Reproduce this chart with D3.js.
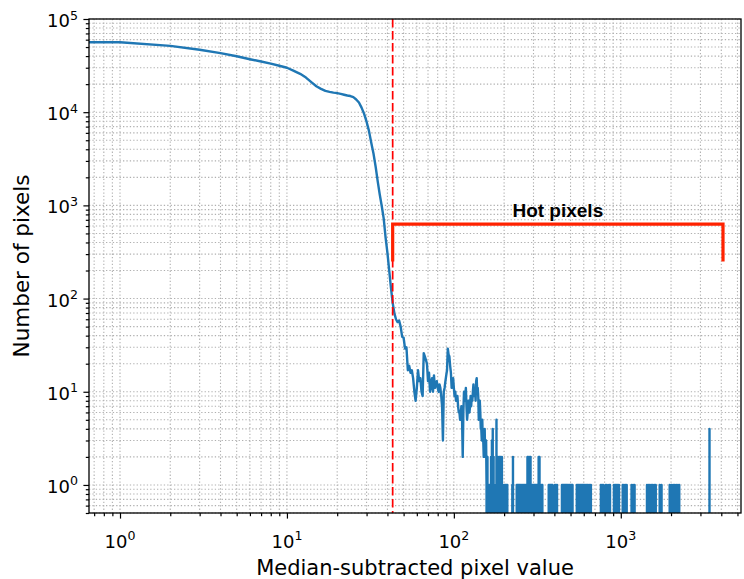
<!DOCTYPE html>
<html>
<head>
<meta charset="utf-8">
<script src="https://cdn.jsdelivr.net/npm/d3@7"></script>
<style>
  body { margin: 0; background: #fff; }
  svg { display: block; font-family: "DejaVu Sans", sans-serif; }
</style>
</head>
<body>
<svg id="chart" width="744" height="579"></svg>
<script>
// Histogram counts for bins 0..156 (bin = index)
const denseCounts = [
  57000, 56200, 51500, 46800, 43000, 39800, 37000, 35000, 33200, 31500,
  30000, 27800, 25800, 23500, 21000, 19000, 17800, 16900, 16500, 16200,
  16000, 15700, 15400, 15100, 14900, 14500, 13700, 12700, 11200, 9600,
  7900, 6300, 4700, 3600, 2600, 1800, 1300, 980, 720, 450,
  310, 200, 130, 90, 70, 60, 56, 58, 50, 39,
  38, 29, 30, 17, 19, 16, 17, 14, 10, 8,
  11, 17, 13, 14, 10, 9, 26, 24, 22, 20,
  13, 16, 10, 12, 14, 10, 15, 11, 12, 13,
  11, 10, 12, 11, 9, 7, 3, 10, 11, 13,
  15, 17, 29, 25, 24, 19, 16, 11, 12, 14,
  11, 9, 10, 8, 8, 9, 7, 6, 6, 5,
  6, 7, 5, 2, 6, 10, 8, 9, 11, 7,
  5, 6, 8, 8, 6, 7, 9, 7, 9, 8,
  10, 12, 9, 10, 11, 8, 13, 14, 10, 11,
  9, 5, 7, 8, 6, 4, 4, 3, 5, 3,
  3, 2, 3, 4, 2, 2, 3
];

// Sparse tail: the only non-empty bins above 156 (all other bins are 0)
const sparseBins = [
  157, 159, 161, 163, 165, 167, 169, 171, 173, 175, 178, 180, 182, 184, 186,
  188, 190, 192, 194, 197, 200, 203, 206, 209, 224, 226, 238, 241, 244, 247,
  250, 254, 258, 262, 266, 270, 276, 279, 282, 285, 288, 291, 295, 299, 303,
  307, 311, 315, 322, 326, 330, 335, 339, 370, 375, 380, 385, 390, 403, 409,
  415, 444, 450, 456, 462, 468, 474, 480, 488, 495, 502, 509, 514, 545, 553,
  561, 569, 577, 585, 593, 601, 610, 619, 628, 637, 650, 662, 760, 772, 784,
  810, 825, 850, 862, 910, 925, 940, 958, 975, 1027, 1045, 1065, 1085, 1160, 1185,
  1210, 1435, 1460, 1490, 1520, 1550, 1585, 1620, 1710, 1755, 1963, 2010, 2060, 2105, 2150,
  2200, 2240, 3400
];
const sparseCounts = [
  1, 2, 1, 1, 1, 2, 3, 4, 2, 1, 1, 5, 1, 2, 1,
  2, 2, 1, 2, 1, 1, 1, 1, 1, 1, 2, 1, 1, 1, 1,
  1, 1, 1, 1, 1, 1, 2, 2, 1, 2, 2, 1, 1, 1, 1,
  1, 1, 1, 2, 2, 1, 1, 1, 1, 1, 1, 1, 1, 1, 1,
  1, 1, 1, 1, 1, 1, 1, 1, 1, 1, 1, 1, 1, 1, 1,
  1, 1, 1, 1, 1, 1, 1, 1, 1, 1, 1, 1, 1, 1, 1,
  1, 1, 1, 1, 1, 1, 1, 1, 1, 1, 1, 1, 1, 1, 1,
  1, 1, 1, 1, 1, 1, 1, 1, 1, 1, 1, 1, 1, 1, 1,
  1, 1, 4
];
const lastBin = 3410;

const thresholdValue = 43;            // red dashed line
const bracketX = [43, 4096];          // "Hot pixels" bracket
const bracketY = [250, 630];
const bracketLabel = "Hot pixels";

const xMajorTicks = [1, 10, 100, 1000];
const yMajorTicks = [1, 10, 100, 1000, 10000, 100000];
const minorSteps = [2, 3, 4, 5, 6, 7, 8, 9];
const xLabel = "Median-subtracted pixel value";
const yLabel = "Number of pixels";

// build the full series
const sparseMap = new Map(sparseBins.map((b, i) => [b, sparseCounts[i]]));
const series = denseCounts.map((c, i) => ({ bin: i, count: c }));
for (let b = denseCounts.length; b <= lastBin; b++) {
  series.push({ bin: b, count: sparseMap.get(b) || 0 });
}

const svg = d3.select("#chart");
const plot = { left: 89, right: 741, top: 19, bottom: 513 };

const x = d3.scaleLog().domain([0.652, 5250]).range([plot.left, plot.right]);
const y = d3.scaleLog().domain([0.5, 100000]).range([plot.bottom, plot.top]);

function minorTicks(scale) {
  const [a, b] = scale.domain();
  const out = [];
  for (let e = -1; e <= 5; e++) {
    for (const m of minorSteps) {
      const v = m * Math.pow(10, e);
      if (v >= a && v <= b) out.push(v);
    }
  }
  return out;
}
const xMinor = minorTicks(x);
const yMinor = minorTicks(y);

// grid (major + minor, dotted)
const grid = svg.append("g")
  .attr("stroke", "#b0b0b0")
  .attr("stroke-width", 1.1)
  .attr("stroke-dasharray", "1.3,2.1");

grid.selectAll("line.gx")
  .data(xMajorTicks.concat(xMinor))
  .enter().append("line")
  .attr("class", "gx")
  .attr("x1", d => x(d)).attr("x2", d => x(d))
  .attr("y1", plot.top).attr("y2", plot.bottom);

grid.selectAll("line.gy")
  .data(yMajorTicks.concat(yMinor))
  .enter().append("line")
  .attr("class", "gy")
  .attr("x1", plot.left).attr("x2", plot.right)
  .attr("y1", d => y(d)).attr("y2", d => y(d));

// clip to axes area
svg.append("clipPath").attr("id", "clip")
  .append("rect")
  .attr("x", plot.left).attr("y", plot.top)
  .attr("width", plot.right - plot.left)
  .attr("height", plot.bottom - plot.top);

// histogram line (zero values drop far below, like matplotlib's log clipping)
const line = d3.line()
  .x(d => (d.bin > 0 ? x(d.bin) : plot.left - 10000))
  .y(d => (d.count > 0 ? y(d.count) : plot.bottom + 3000));

svg.append("path")
  .datum(series)
  .attr("clip-path", "url(#clip)")
  .attr("fill", "none")
  .attr("stroke", "#1f77b4")
  .attr("stroke-width", 2.4)
  .attr("stroke-linejoin", "round")
  .attr("d", line);

// threshold
svg.append("line")
  .attr("x1", x(thresholdValue)).attr("x2", x(thresholdValue))
  .attr("y1", plot.top).attr("y2", plot.bottom)
  .attr("stroke", "#ff0000")
  .attr("stroke-width", 1.7)
  .attr("stroke-dasharray", "8.5,3.5");

// bracket
const bracketPts = [
  [bracketX[0], bracketY[0]],
  [bracketX[0], bracketY[1]],
  [bracketX[1], bracketY[1]],
  [bracketX[1], bracketY[0]],
];
svg.append("path")
  .attr("d", d3.line().x(d => x(d[0])).y(d => y(d[1]))(bracketPts))
  .attr("fill", "none")
  .attr("stroke", "#ff2200")
  .attr("stroke-width", 3.2)
  .attr("stroke-linejoin", "miter");

svg.append("text")
  .attr("x", x(Math.sqrt(bracketX[0] * bracketX[1])))
  .attr("y", y(bracketY[1]) - 7)
  .attr("text-anchor", "middle")
  .attr("font-family", "'Liberation Sans', Arial, sans-serif")
  .attr("font-weight", "bold")
  .attr("font-size", 19)
  .attr("fill", "#000")
  .text(bracketLabel);

// frame
svg.append("rect")
  .attr("x", plot.left).attr("y", plot.top)
  .attr("width", plot.right - plot.left)
  .attr("height", plot.bottom - plot.top)
  .attr("fill", "none")
  .attr("stroke", "#000")
  .attr("stroke-width", 1.3);

// ticks
function styleTicks(g) {
  g.select(".domain").remove();
  g.selectAll("line").attr("stroke", "#000").attr("stroke-width", 1.2);
}
svg.append("g").attr("transform", `translate(${plot.left},0)`)
  .call(d3.axisLeft(y).tickValues(yMajorTicks).tickSize(5.6).tickFormat(""))
  .call(styleTicks);
svg.append("g").attr("transform", `translate(${plot.left},0)`)
  .call(d3.axisLeft(y).tickValues(yMinor).tickSize(3.2).tickFormat(""))
  .call(styleTicks);
svg.append("g").attr("transform", `translate(0,${plot.bottom})`)
  .call(d3.axisBottom(x).tickValues(xMajorTicks).tickSize(5.6).tickFormat(""))
  .call(styleTicks);
svg.append("g").attr("transform", `translate(0,${plot.bottom})`)
  .call(d3.axisBottom(x).tickValues(xMinor).tickSize(3.2).tickFormat(""))
  .call(styleTicks);

// tick labels 10^n
function powLabel(sel) {
  sel.append("tspan").attr("font-size", 18).text("10");
  sel.append("tspan").attr("font-size", 12.6).attr("dy", -7.5)
    .text(d => Math.round(Math.log10(d)));
}
svg.append("g").selectAll("text")
  .data(yMajorTicks)
  .enter().append("text")
  .attr("x", plot.left - 11)
  .attr("y", d => y(d) + 8)
  .attr("text-anchor", "end")
  .attr("fill", "#000")
  .call(powLabel);

svg.append("g").selectAll("text")
  .data(xMajorTicks)
  .enter().append("text")
  .attr("x", d => x(d))
  .attr("y", 547.5)
  .attr("text-anchor", "middle")
  .attr("fill", "#000")
  .call(powLabel);

// axis labels
svg.append("text")
  .attr("x", (plot.left + plot.right) / 2)
  .attr("y", 575)
  .attr("text-anchor", "middle")
  .attr("font-size", 21)
  .attr("fill", "#000")
  .text(xLabel);

svg.append("text")
  .attr("transform", `translate(29,${(plot.top + plot.bottom) / 2}) rotate(-90)`)
  .attr("text-anchor", "middle")
  .attr("font-size", 21.5)
  .attr("fill", "#000")
  .text(yLabel);
</script>
</body>
</html>
